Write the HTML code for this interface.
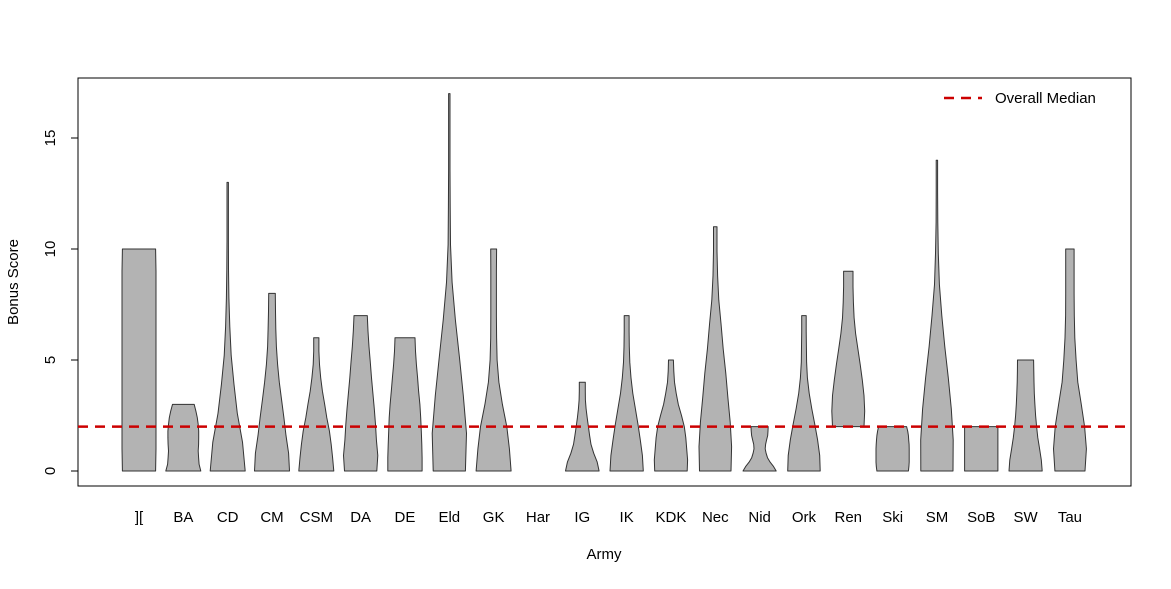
<!DOCTYPE html>
<html><head><meta charset="utf-8"><style>
body{margin:0;background:#fff}
svg text{font-family:"Liberation Sans",Arial,sans-serif;font-size:15px;fill:#000}
</style></head><body>
<svg id="chart" width="1171" height="584" viewBox="0 0 1171 584">
<rect x="78" y="78" width="1053" height="408" fill="none" stroke="#000" stroke-width="1"/>
<g id="violins"></g>
<g id="yaxis"></g>
<g id="xaxis"></g>
<text x="604" y="559" text-anchor="middle">Army</text>
<text transform="translate(18,282) rotate(-90)" text-anchor="middle">Bonus Score</text>
<g>
<line x1="944" y1="98" x2="982" y2="98" stroke="#cc0000" stroke-width="2.5" stroke-dasharray="10,7"/>
<text x="995" y="103">Overall Median</text>
</g>
</svg>
<script>
const categories=["][","BA","CD","CM","CSM","DA","DE","Eld","GK","Har","IG","IK","KDK","Nec","Nid","Ork","Ren","Ski","SM","SoB","SW","Tau"];
const mins=[0,0,0,0,0,0,0,0,0,null,0,0,0,0,0,0,2,0,0,0,0,0];
const maxs=[10,3,13,8,6,7,6,17,10,null,4,7,5,11,2,7,9,2,14,2,5,10];
const profiles=[
[0.95,0.97,0.97,0.97,0.97,0.97,0.97,0.97,0.97,0.97,0.95],
[1,0.9,0.87,0.85,0.87,0.88,0.88,0.85,0.8,0.72,0.62],
[1,0.85,0.55,0.36,0.2,0.12,0.07,0.05,0.04,0.04,0.04],
[1,0.95,0.8,0.68,0.55,0.42,0.32,0.25,0.22,0.2,0.19],
[1,0.93,0.85,0.75,0.6,0.48,0.35,0.25,0.18,0.15,0.15],
[0.92,0.98,0.9,0.85,0.78,0.7,0.62,0.55,0.48,0.42,0.38],
[0.98,0.98,0.96,0.93,0.9,0.85,0.78,0.72,0.65,0.6,0.57],
[0.92,0.98,0.8,0.58,0.35,0.16,0.07,0.05,0.04,0.04,0.04],
[1,0.9,0.75,0.5,0.3,0.2,0.17,0.16,0.16,0.16,0.17],
null,
[0.96,0.85,0.65,0.5,0.42,0.35,0.28,0.22,0.18,0.17,0.17],
[0.95,0.9,0.78,0.65,0.5,0.35,0.25,0.18,0.15,0.14,0.14],
[0.93,0.95,0.9,0.85,0.76,0.6,0.42,0.3,0.2,0.16,0.14],
[0.9,0.93,0.85,0.72,0.6,0.45,0.33,0.2,0.13,0.1,0.1],
[0.95,0.8,0.6,0.45,0.37,0.32,0.34,0.4,0.46,0.48,0.49],
[0.93,0.9,0.78,0.62,0.45,0.3,0.2,0.15,0.14,0.13,0.13],
[0.9,0.94,0.9,0.8,0.68,0.55,0.42,0.33,0.29,0.27,0.27],
[0.9,0.93,0.95,0.95,0.95,0.95,0.94,0.92,0.9,0.86,0.8],
[0.92,0.93,0.82,0.65,0.45,0.28,0.14,0.08,0.05,0.04,0.04],
[0.95,0.95,0.95,0.95,0.95,0.95,0.95,0.95,0.95,0.95,0.95],
[0.95,0.9,0.8,0.7,0.63,0.57,0.53,0.5,0.48,0.47,0.46],
[0.86,0.94,0.84,0.65,0.45,0.35,0.28,0.25,0.24,0.24,0.24]
];
const overallMedian=2;
const yTicks=[0,5,10,15];

const NS="http://www.w3.org/2000/svg";
function xs(i){return 139+i*44.33;}
function ys(v){return 471-v*22.2;}
const HALF=17.5;
const vg=document.getElementById('violins');
categories.forEach((c,i)=>{
  const p=profiles[i];
  if(!p||mins[i]===null)return;
  const n=p.length,cx=xs(i);
  const right=[],left=[];
  for(let k=0;k<n;k++){
    const v=mins[i]+(maxs[i]-mins[i])*k/(n-1);
    right.push([cx+p[k]*HALF,ys(v)]);
    left.push([cx-p[k]*HALF,ys(v)]);
  }
  const pts=right.concat(left.reverse()).map(q=>q[0].toFixed(1)+','+q[1].toFixed(1)).join(' ');
  const poly=document.createElementNS(NS,'polygon');
  poly.setAttribute('points',pts);
  poly.setAttribute('fill','#b3b3b3');
  poly.setAttribute('stroke','#333');
  poly.setAttribute('stroke-width','1');
  poly.setAttribute('stroke-linejoin','round');
  
  
  vg.appendChild(poly);
});
const ml=document.createElementNS(NS,'line');
ml.setAttribute('x1',78);ml.setAttribute('x2',1131);
ml.setAttribute('y1',ys(overallMedian));ml.setAttribute('y2',ys(overallMedian));
ml.setAttribute('stroke','#cc0000');ml.setAttribute('stroke-width','2.5');ml.setAttribute('stroke-dasharray','10,7');


document.getElementById('chart').appendChild(ml);
const ya=document.getElementById('yaxis');
const axl=document.createElementNS(NS,'line');
axl.setAttribute('x1',78);axl.setAttribute('x2',78);axl.setAttribute('y1',ys(0));axl.setAttribute('y2',ys(15));axl.setAttribute('stroke','#000');


ya.appendChild(axl);
yTicks.forEach(t=>{
  const l=document.createElementNS(NS,'line');
  l.setAttribute('x1',71);l.setAttribute('x2',78);l.setAttribute('y1',ys(t));l.setAttribute('y2',ys(t));l.setAttribute('stroke','#000');
  
  
  ya.appendChild(l);
  const tx=document.createElementNS(NS,'text');
  tx.setAttribute('transform','translate(55,'+ys(t)+') rotate(-90)');
  tx.setAttribute('text-anchor','middle');
  tx.textContent=t;
  
  
  ya.appendChild(tx);
});
const xa=document.getElementById('xaxis');
categories.forEach((c,i)=>{
  const tx=document.createElementNS(NS,'text');
  tx.setAttribute('x',xs(i));tx.setAttribute('y',522);tx.setAttribute('text-anchor','middle');
  tx.textContent=c;
  
  
  xa.appendChild(tx);
});
</script>
</body></html>
